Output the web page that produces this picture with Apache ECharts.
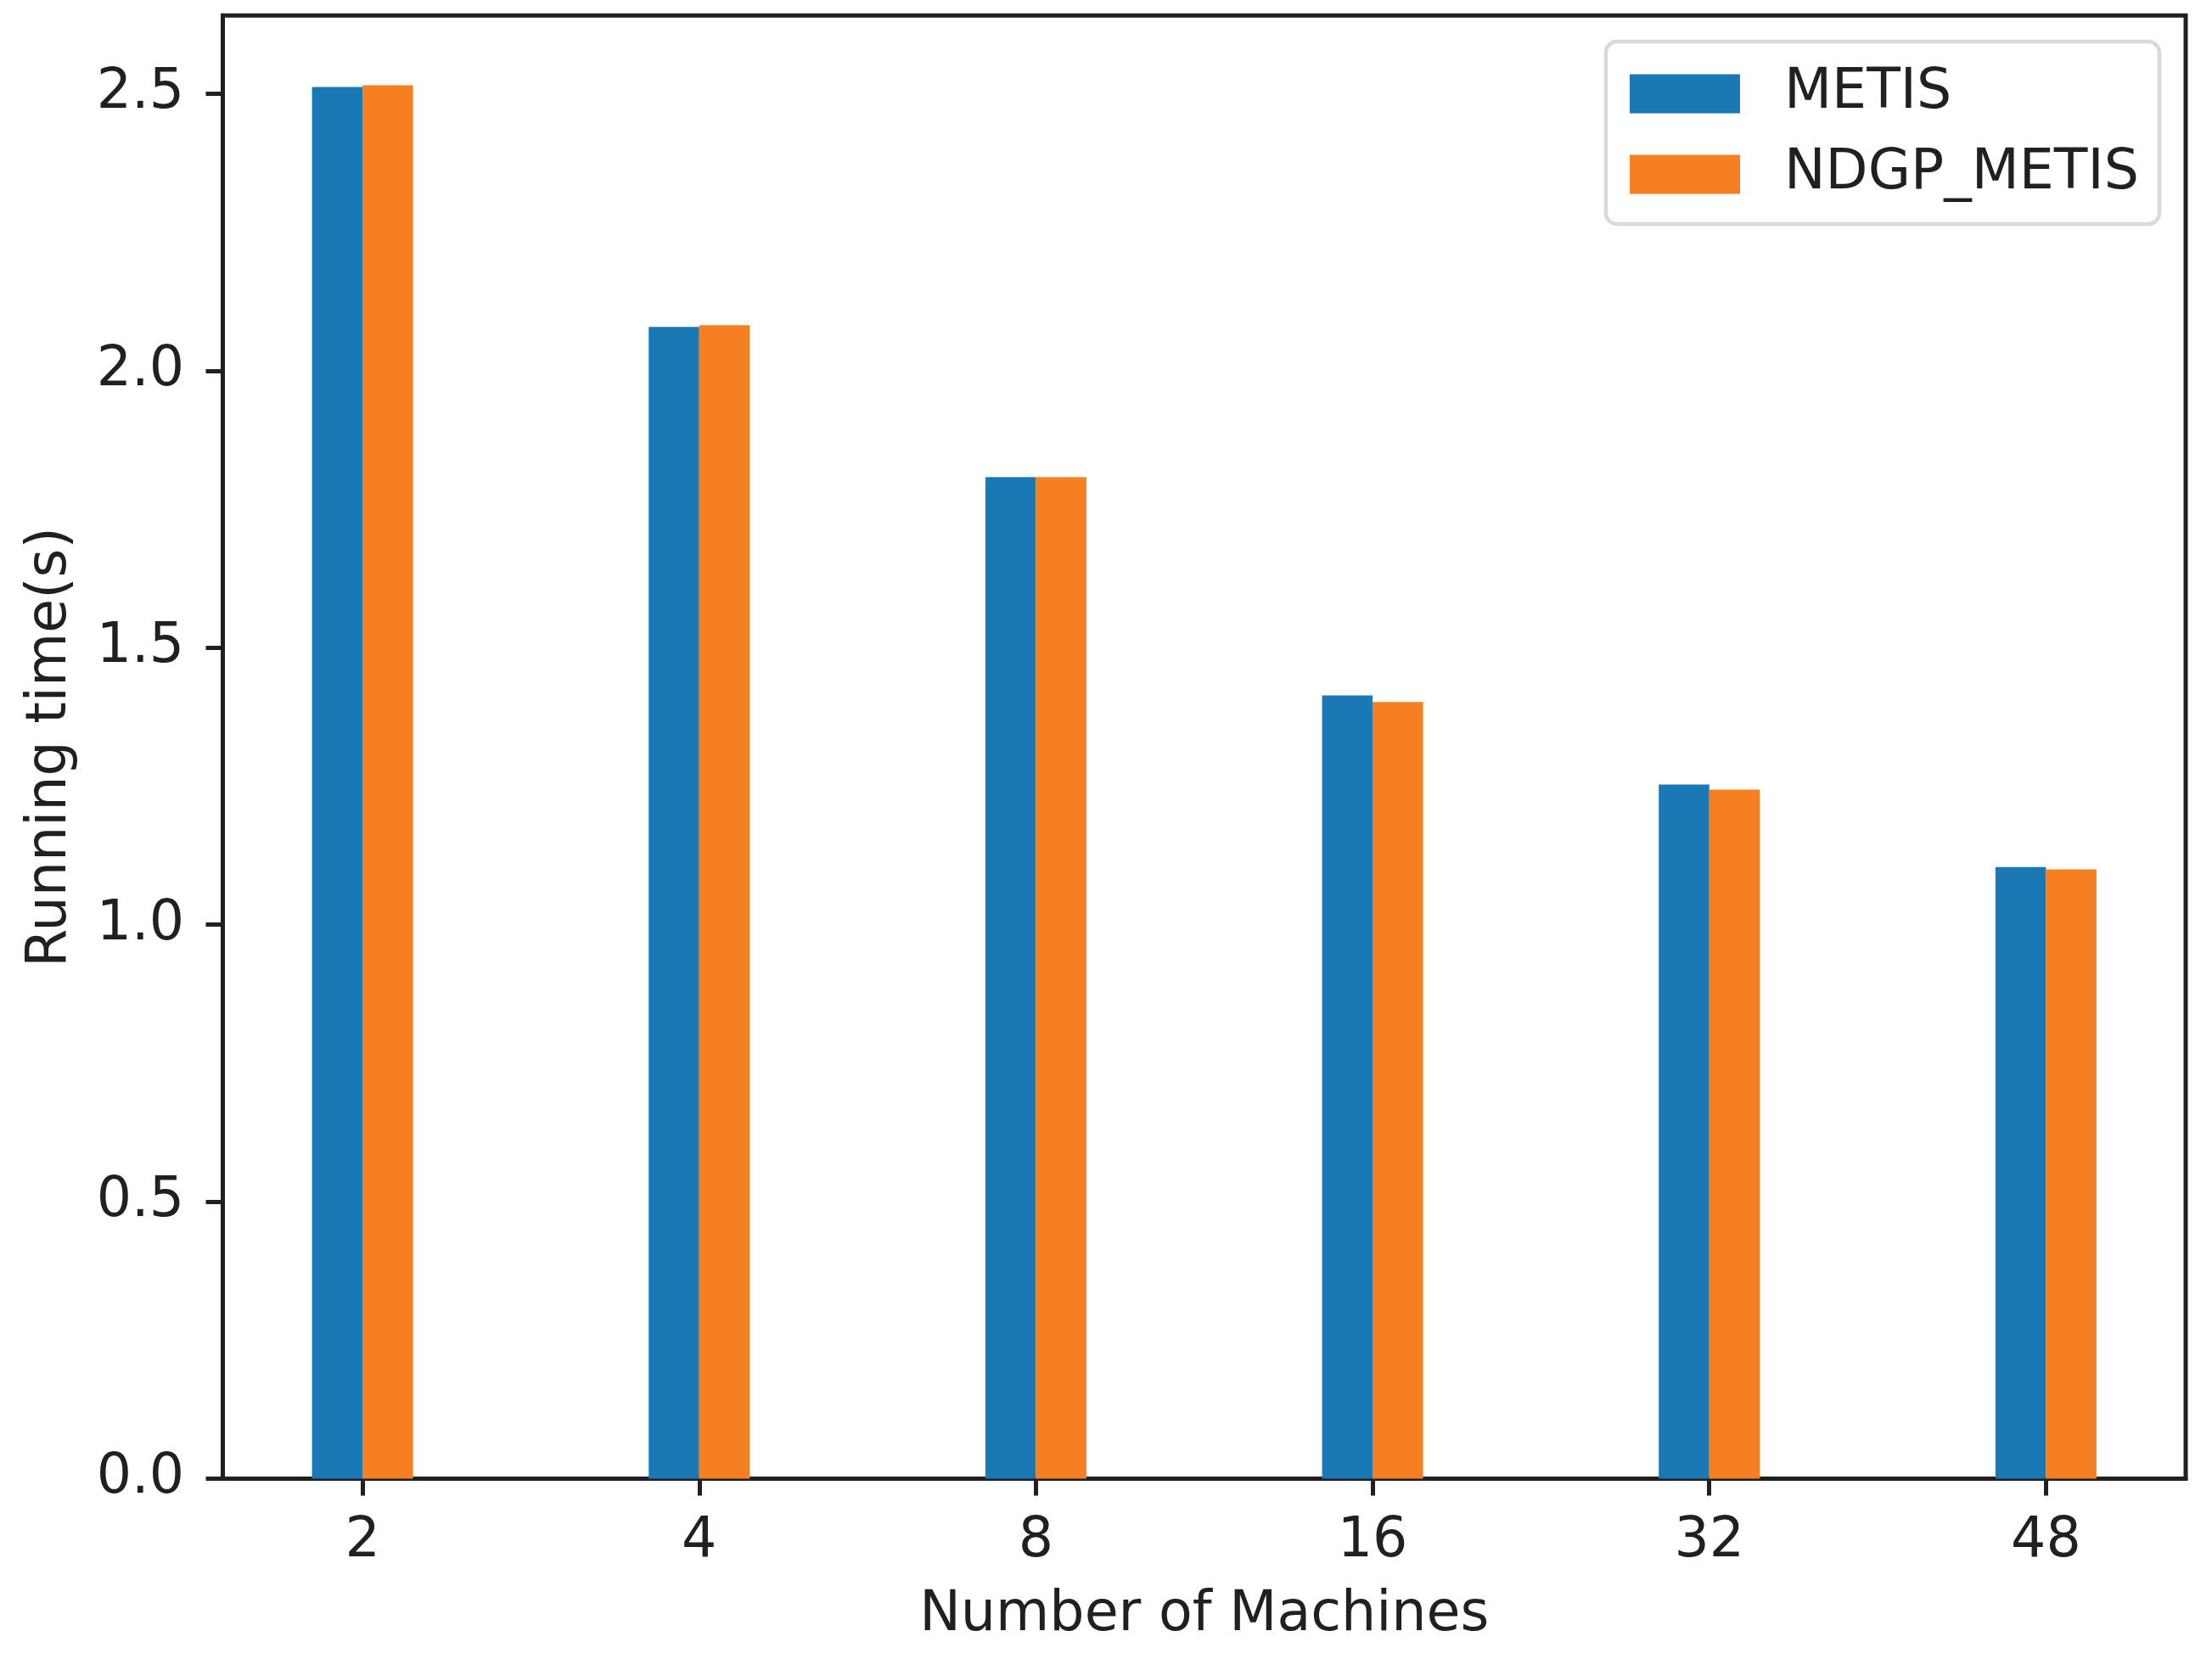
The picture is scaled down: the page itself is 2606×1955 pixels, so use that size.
<!DOCTYPE html>
<html>
<head>
<meta charset="utf-8">
<script src="https://cdn.jsdelivr.net/npm/echarts@6/dist/echarts.min.js"></script>
<style>
html,body{margin:0;padding:0;background:#fff;}
#chart{width:2606px;height:1955px;}
</style>
</head>
<body>
<div id="chart"></div>
<script>
var categories = ['2', '4', '8', '16', '32', '48'];
var metis = [2.512, 2.079, 1.808, 1.414, 1.253, 1.104];
var ndgpMetis = [2.515, 2.082, 1.808, 1.402, 1.244, 1.100];
var yTicks = [0, 0.5, 1.0, 1.5, 2.0, 2.5];
var seriesNames = ['METIS', 'NDGP_METIS'];

var FONT = 'DejaVu Sans';
var TXT = '#231f20';
var FS = 65;
var xPositions = categories.map(function (c, i) { return i; });

var chart = echarts.init(document.getElementById('chart'), null, {renderer: 'canvas'});
chart.setOption({
  backgroundColor: '#ffffff',
  animation: false,
  textStyle: {fontFamily: FONT, color: TXT},
  grid: {
    left: 262.5, right: 31, top: 18.3, bottom: 212.4,
    show: true, borderColor: TXT, borderWidth: 5, backgroundColor: '#ffffff'
  },
  legend: {
    right: 62, top: 49,
    orient: 'vertical',
    data: seriesNames,
    icon: 'rect',
    itemWidth: 130, itemHeight: 46,
    itemGap: 30,
    padding: [29, 24, 26, 28],
    backgroundColor: '#ffffff',
    borderColor: '#d9d9d9',
    borderWidth: 4.5,
    borderRadius: 13,
    textStyle: {fontFamily: FONT, fontSize: FS, color: TXT, padding: [0, 0, 0, 47]}
  },
  xAxis: {
    type: 'value',
    min: -0.415, max: 5.415,
    name: 'Number of Machines',
    nameLocation: 'middle',
    nameGap: 129,
    nameTextStyle: {fontFamily: FONT, fontSize: FS, color: TXT},
    splitLine: {show: false},
    axisLine: {show: true, onZero: false, lineStyle: {color: TXT, width: 5}},
    axisTick: {show: true, length: 20, lineStyle: {color: TXT, width: 5}, customValues: xPositions},
    axisLabel: {
      margin: 42, fontFamily: FONT, fontSize: FS, color: TXT,
      customValues: xPositions,
      formatter: function (v) { return categories[Math.round(v)]; }
    }
  },
  yAxis: {
    type: 'value',
    min: 0, max: 2.641,
    name: 'Running time(s)',
    nameLocation: 'middle',
    nameRotate: 90,
    nameGap: 170,
    nameTextStyle: {fontFamily: FONT, fontSize: FS, color: TXT},
    splitLine: {show: false},
    axisLine: {show: true, onZero: false, lineStyle: {color: TXT, width: 5}},
    axisTick: {show: true, length: 20, lineStyle: {color: TXT, width: 5}, customValues: yTicks},
    axisLabel: {
      margin: 45.5, fontFamily: FONT, fontSize: FS, color: TXT,
      customValues: yTicks,
      formatter: function (v) { return v.toFixed(1); }
    }
  },
  series: [
    {
      name: seriesNames[0], type: 'bar',
      barWidth: '15%', barGap: '0%',
      itemStyle: {color: '#1a78b4'},
      data: metis.map(function (v, i) { return [xPositions[i], v]; })
    },
    {
      name: seriesNames[1], type: 'bar',
      barWidth: '15%', barGap: '0%',
      itemStyle: {color: '#f57f21'},
      data: ndgpMetis.map(function (v, i) { return [xPositions[i], v]; })
    }
  ]
});
</script>
</body>
</html>
